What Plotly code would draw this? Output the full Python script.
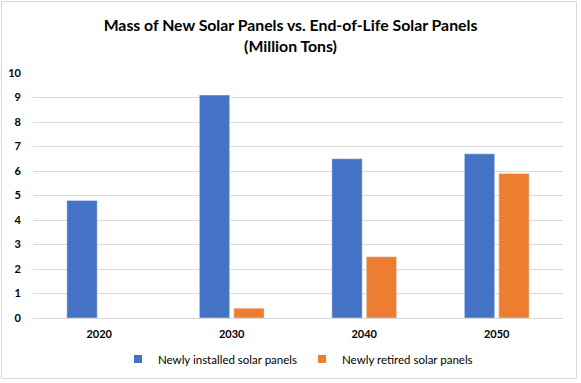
import plotly.graph_objects as go

years = ["2020", "2030", "2040", "2050"]
installed = [4.8, 9.1, 6.5, 6.7]
retired = [None, 0.4, 2.5, 5.9]
series_names = ["Newly installed solar panels", "Newly retired solar panels"]
colors = ["#4472C4", "#ED7D31"]
y_ticks = list(range(0, 11))

W, H = 581, 383
ml, mr, mt, mb = 33, 18, 73, 65
pw, ph = W - ml - mr, H - mt - mb

font_fam = "Lato, Open Sans, sans-serif"

fig = go.Figure()
for vals, name, col in zip([installed, retired], series_names, colors):
    fig.add_trace(go.Bar(x=years, y=vals, name=name, marker_color=col,
                         showlegend=False, legendgroup=name))
# legend-only entries with small square swatches
for name, col in zip(series_names, colors):
    fig.add_trace(go.Scatter(x=[None], y=[None], mode="markers", name=name,
                             marker=dict(symbol="square", size=8, color=col),
                             legendgroup=name, showlegend=True))

fig.update_layout(
    width=W, height=H,
    margin=dict(l=ml, r=mr, t=mt, b=mb, autoexpand=False),
    paper_bgcolor="white", plot_bgcolor="white",
    barmode="group", bargap=0.48, bargroupgap=0.12,
    title=dict(
        text="<b>Mass of New Solar Panels vs. End-of-Life Solar Panels<br>(Million Tons)</b>",
        x=0.5, xanchor="center", y=1 - 31 / H, yanchor="top",
        font=dict(family=font_fam, size=15.8, color="black"),
    ),
    font=dict(family=font_fam, color="black"),
    legend=dict(
        orientation="h", x=0.5, xanchor="center", y=-(359 - 318) / ph, yanchor="middle",
        font=dict(size=11.5, color="black"), itemwidth=30, traceorder="normal",
        bgcolor="rgba(0,0,0,0)",
    ),
    showlegend=True,
)
fig.update_xaxes(
    type="category", showgrid=False, showline=True, linecolor="#D9D9D9", linewidth=1,
    ticks="", automargin=False, ticklabelstandoff=6,
    tickfont=dict(size=11, family=font_fam, color="black", weight="bold"),
)
fig.update_yaxes(
    range=[0, 10], tickvals=y_ticks, showgrid=True, gridcolor="#D9D9D9", gridwidth=1,
    zeroline=False, showline=False, ticks="", ticklabelstandoff=11, automargin=False,
    tickfont=dict(size=11, family=font_fam, color="black", weight="bold"),
)
# outer chart border
fig.add_shape(
    type="rect", xref="paper", yref="paper",
    x0=(1.5 - ml) / pw, x1=(W - 4.5 - ml) / pw,
    y0=-(H - 4.5 - mt - ph) / ph, y1=1 + (mt - 1.5) / ph,
    line=dict(color="#D9D9D9", width=1), fillcolor="rgba(0,0,0,0)", layer="below",
)

fig.write_html("out.html", config={"displayModeBar": False},
               post_script="document.body.style.margin='0';document.body.style.overflow='hidden';")
